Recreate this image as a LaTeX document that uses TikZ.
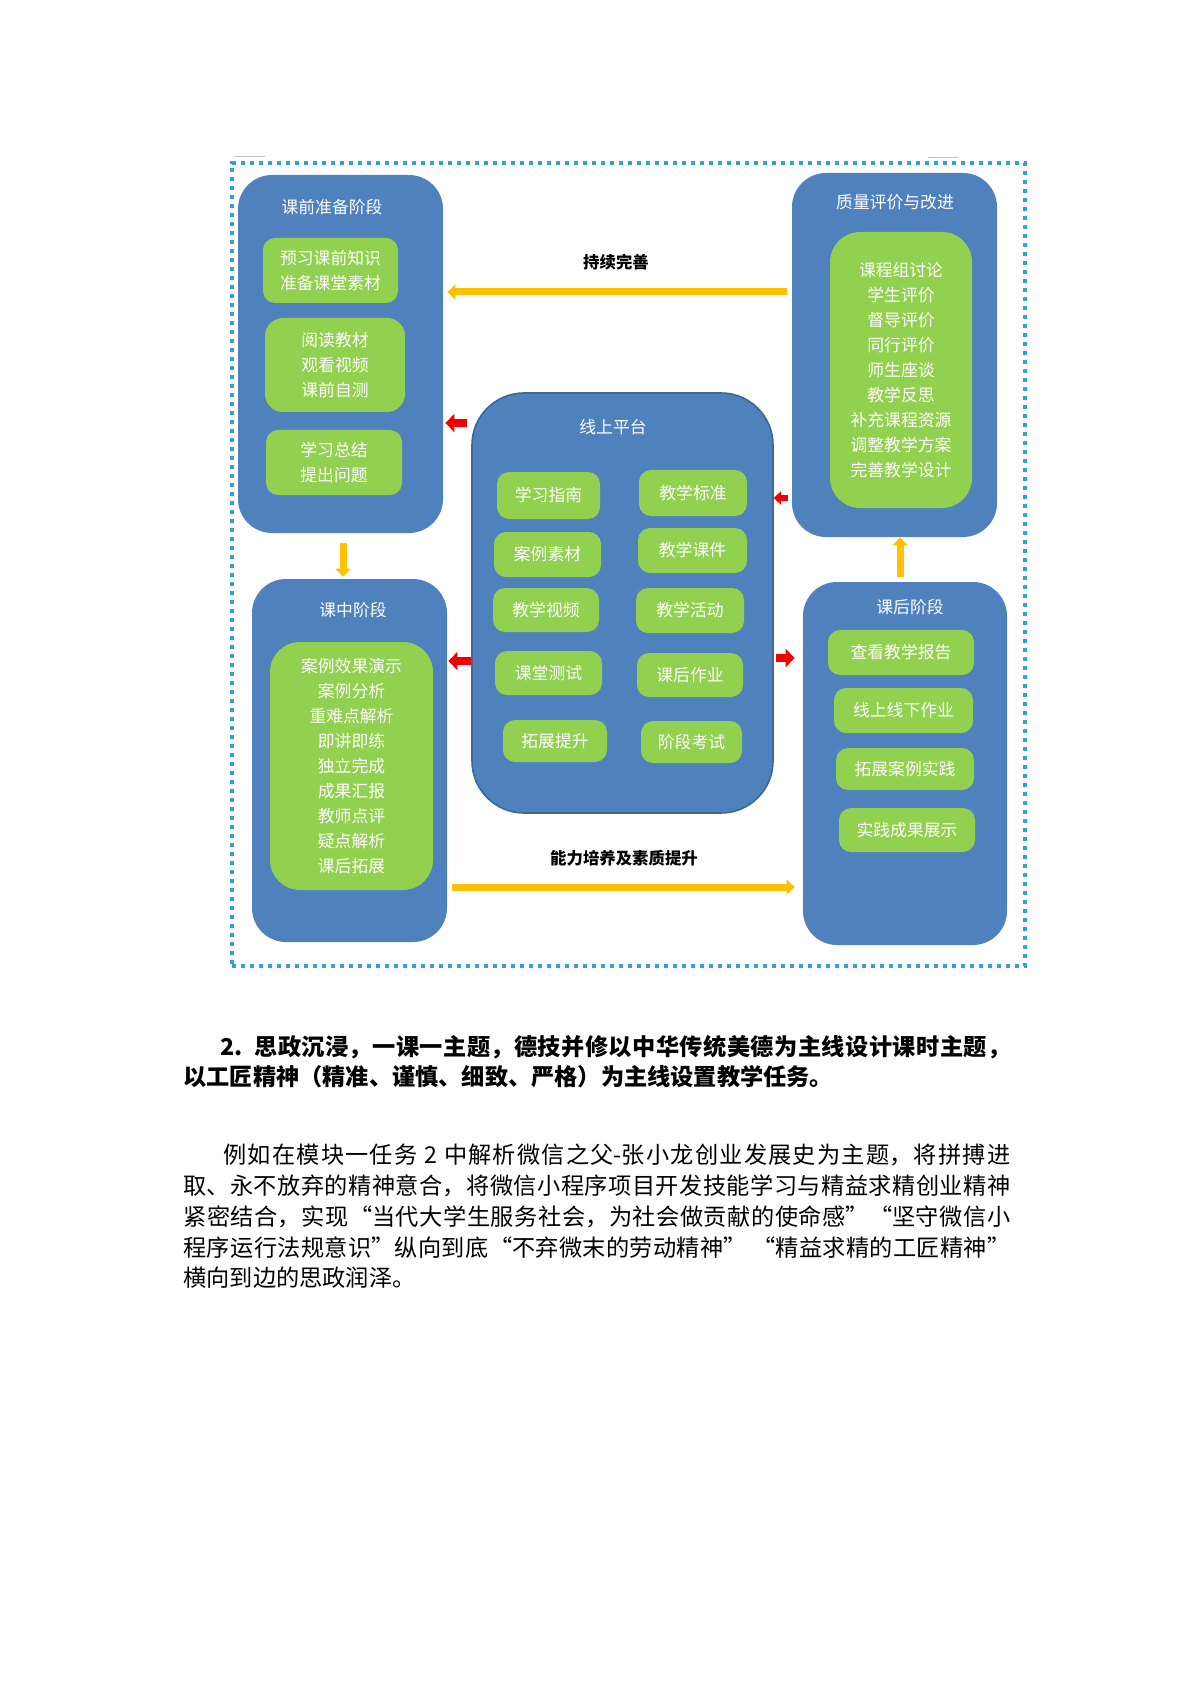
\documentclass[tikz,border=0pt]{standalone}
\usepackage{fontspec}
\setmainfont{Noto Sans CJK SC}
\XeTeXlinebreaklocale "zh"
\XeTeXlinebreakskip=0pt plus 1pt
\usetikzlibrary{arrows.meta}
\definecolor{boxblue}{HTML}{4F81BD}
\definecolor{boxedge}{HTML}{3C6899}
\definecolor{boxgreen}{HTML}{92D050}
\definecolor{arrorange}{HTML}{FFC000}
\definecolor{arrred}{HTML}{F00000}
\definecolor{frameblue}{HTML}{2FA2D8}
\tikzset{
  bluebox/.style={fill=boxblue, rounded corners=17pt, inner sep=0pt},
  greenbox/.style={fill=boxgreen, rounded corners=6pt, inner sep=0pt, text=white, align=center,
    font=\fontsize{8.4}{12.5}\selectfont},
  ttl/.style={text=white, inner sep=0pt, font=\fontsize{8.4}{10}\selectfont},
  lbl/.style={text=black, inner sep=0pt, font=\bfseries\fontsize{8.2}{10}\selectfont},
  redarr/.style={draw=arrred, line width=4pt, -{Triangle[length=4.5pt,width=9pt]}},
  smallred/.style={draw=arrred, line width=2.6pt, -{Triangle[length=3.5pt,width=6.5pt]}},
  orarr/.style={draw=arrorange, line width=3.5pt, -{Triangle[length=4pt,width=7.5pt]}},
  jline/.style={anchor=west, inner sep=0pt, align=justify, font=\fontsize{11.6}{14}\selectfont},
  pline/.style={anchor=west, inner sep=0pt, font=\fontsize{11.6}{14}\selectfont},
}
\begin{document}
\begin{tikzpicture}[x=0.5pt,y=-0.5pt]
\useasboundingbox (0,0) rectangle (1191,1684);

% frame
\node[draw=frameblue, line width=2pt, dash pattern=on 2.2pt off 2.3pt, inner sep=0pt,
  minimum width=396.5pt, minimum height=401.5pt] (frame) at (628.5,564.5) {};
\coordinate (ga1) at (235,156); \coordinate (ga2) at (265,156);
\coordinate (gb1) at (928,157); \coordinate (gb2) at (958,157);
\draw[gray!50, line width=0.4pt] (ga1) -- (ga2);
\draw[gray!50, line width=0.4pt] (gb1) -- (gb2);

% outer blue boxes
\node[bluebox, minimum width=102.5pt, minimum height=179pt] (pre) at (340.5,354) {};
\node[bluebox, minimum width=102.5pt, minimum height=182pt] (qa) at (894.5,355) {};
\node[bluebox, minimum width=97.5pt, minimum height=181.5pt] (mid) at (349.5,760.5) {};
\node[bluebox, minimum width=102pt, minimum height=181.5pt] (post) at (905,763.5) {};
\node[bluebox, draw=boxedge, line width=0.8pt, rounded corners=26pt,
  minimum width=150.5pt, minimum height=210pt] (plat) at (622.5,603) {};

% titles
\node[ttl] (preT) at (332,207) {课前准备阶段};
\node[ttl] (qaT) at (895,202) {质量评价与改进};
\node[ttl] (midT) at (353,610) {课中阶段};
\node[ttl] (platT) at (613,427) {线上平台};
\node[ttl] (postT) at (910,607) {课后阶段};

% pre greens
\node[greenbox, minimum width=67.5pt, minimum height=32.5pt] (pg1) at (330.5,270.5) {预习课前知识\\准备课堂素材};
\node[greenbox, minimum width=70pt, minimum height=47pt, rounded corners=9pt] (pg2) at (335,365) {阅读教材\\观看视频\\课前自测};
\node[greenbox, minimum width=68pt, minimum height=32.5pt] (pg3) at (334,462.5) {学习总结\\提出问题};

% qa green
\node[greenbox, minimum width=71pt, minimum height=138pt, rounded corners=15pt] (qg) at (901,370)
  {课程组讨论\\学生评价\\督导评价\\同行评价\\师生座谈\\教学反思\\补充课程资源\\调整教学方案\\完善教学设计};

% mid green
\node[greenbox, minimum width=81.5pt, minimum height=124pt, rounded corners=15pt] (mg) at (351.5,766)
  {案例效果演示\\案例分析\\重难点解析\\即讲即练\\独立完成\\成果汇报\\教师点评\\疑点解析\\课后拓展};

% platform greens
\node[greenbox, minimum width=51.5pt, minimum height=23.5pt] (pl1) at (548.5,495.5) {学习指南};
\node[greenbox, minimum width=54pt, minimum height=23pt] (pl2) at (693,493) {教学标准};
\node[greenbox, minimum width=53.5pt, minimum height=22.5pt] (pl3) at (547.5,554.5) {案例素材};
\node[greenbox, minimum width=54.5pt, minimum height=22.5pt] (pl4) at (692.5,550.5) {教学课件};
\node[greenbox, minimum width=53pt, minimum height=22pt] (pl5) at (546,610) {教学视频};
\node[greenbox, minimum width=54pt, minimum height=22.5pt] (pl6) at (690,610.5) {教学活动};
\node[greenbox, minimum width=53.5pt, minimum height=22pt] (pl7) at (548.5,673) {课堂测试};
\node[greenbox, minimum width=53pt, minimum height=22pt] (pl8) at (690,675) {课后作业};
\node[greenbox, minimum width=52pt, minimum height=21pt] (pl9) at (555,741) {拓展提升};
\node[greenbox, minimum width=50.5pt, minimum height=21pt] (pl10) at (691.5,742) {阶段考试};

% post greens
\node[greenbox, minimum width=73pt, minimum height=22.5pt] (po1) at (901,652.5) {查看教学报告};
\node[greenbox, minimum width=69.5pt, minimum height=22.5pt] (po2) at (903.5,710.5) {线上线下作业};
\node[greenbox, minimum width=69pt, minimum height=21pt] (po3) at (905,769) {拓展案例实践};
\node[greenbox, minimum width=68pt, minimum height=22pt] (po4) at (907,830) {实践成果展示};

% orange arrows
\coordinate (yA) at (0,292);
\draw[orarr, shorten <=2.5pt, shorten >=2pt] (qa.west |- yA) -- (pre.east |- yA);
\node[lbl] (lblA) at (616,262) {持续完善};
\coordinate (xD) at (343,0);
\draw[orarr, shorten <=5pt, shorten >=1pt] (pre.south -| xD) -- (mid.north -| xD);
\coordinate (xU) at (900,0);
\draw[orarr, shorten <=2.5pt] (post.north -| xU) -- (qa.south -| xU);
\coordinate (yB) at (0,887);
\draw[orarr, shorten <=2.5pt, shorten >=4pt] (mid.east |- yB) -- (post.west |- yB);
\node[lbl] (lblB) at (624,858) {能力培养及素质提升};

% red arrows
\coordinate (r1) at (0,423);
\draw[redarr, shorten <=2pt, shorten >=1pt] (plat.west |- r1) -- (pre.east |- r1);
\coordinate (r2) at (0,661);
\draw[redarr, shorten <=0pt, shorten >=0.5pt] (plat.west |- r2) -- (mid.east |- r2);
\coordinate (r3) at (0,498);
\draw[smallred, shorten <=2pt] (qa.west |- r3) -- (plat.east |- r3);
\coordinate (r4) at (0,658);
\draw[redarr, shorten <=1pt, shorten >=4pt] (plat.east |- r4) -- (post.west |- r4);

% text below
\node[jline, text width=395pt, font=\bfseries\fontsize{11.6}{14}\selectfont] (h1) at (220,1047)
  {\parfillskip=0pt 2.\ \ 思政沉浸，一课一主题，德技并修以中华传统美德为主线设计课时主题，\par};
\node[pline, font=\bfseries\fontsize{11.6}{14}\selectfont] (h2) at (183,1077)
  {以工匠精神（精准、谨慎、细致、严格）为主线设置教学任务。};
\node[jline, text width=393.5pt] (b1) at (223,1155)
  {\parfillskip=0pt 例如在模块一任务 2 中解析微信之父-张小龙创业发展史为主题，将拼搏进\par};
\node[jline, text width=413.5pt] (b2) at (183,1186)
  {\parfillskip=0pt 取、永不放弃的精神意合，将微信小程序项目开发技能学习与精益求精创业精神\par};
\node[jline, text width=413.5pt] (b3) at (183,1217)
  {\parfillskip=0pt 紧密结合，实现“当代大学生服务社会，为社会做贡献的使命感\mbox{”“}坚守微信小\par};
\node[jline, text width=413.5pt] (b4) at (183,1248)
  {\parfillskip=0pt 程序运行法规意识”纵向到底“不弃微末的劳动精神” “精益求精的工匠精神”\par};
\node[pline] (b5) at (183,1278) {横向到边的思政润泽。};
\end{tikzpicture}
\end{document}
